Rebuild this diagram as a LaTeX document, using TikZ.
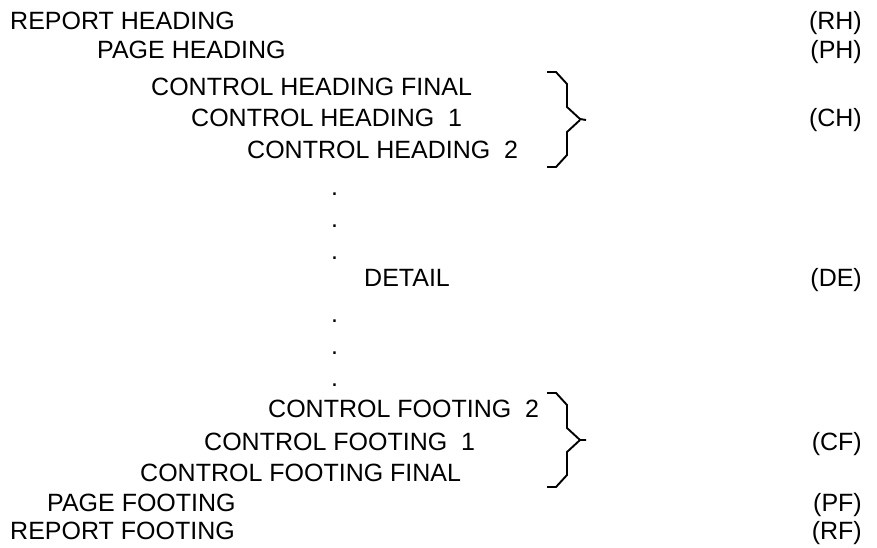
\documentclass[tikz,border=0pt]{standalone}
\usepackage{fontspec}
\setmainfont{Liberation Sans}
\begin{document}
\begin{tikzpicture}[x=1pt,y=-1pt,
  lbl/.style={anchor=base west,inner sep=0pt,font=\fontsize{25}{25}\selectfont},
  tag/.style={anchor=base east,inner sep=0pt,font=\fontsize{25}{25}\selectfont},
  brace/.style={line width=1.9pt,line join=miter}]
\useasboundingbox (0,0) rectangle (877,548);
% left column
\node[lbl] (rh)  at (10,30)  {REPORT HEADING};
\node[lbl] (ph)  at (97,59)  {PAGE HEADING};
\node[lbl] (chf) at (151,96) {CONTROL HEADING FINAL};
\node[lbl] (ch1) at (191,127) {CONTROL HEADING\ \ 1};
\node[lbl] (ch2) at (247,159) {CONTROL HEADING\ \ 2};
\node[lbl] (d1) at (331,195) {.};
\node[lbl] (d2) at (331,227) {.};
\node[lbl] (d3) at (331,259) {.};
\node[lbl] (de) at (364,286) {DETAIL};
\node[lbl] (d4) at (331,322) {.};
\node[lbl] (d5) at (331,354) {.};
\node[lbl] (d6) at (331,386) {.};
\node[lbl] (cf2) at (268,417) {CONTROL FOOTING\ \ 2};
\node[lbl] (cf1) at (204,450) {CONTROL FOOTING\ \ 1};
\node[lbl] (cff) at (140,481) {CONTROL FOOTING FINAL};
\node[lbl] (pf)  at (47,511) {PAGE FOOTING};
\node[lbl] (rf)  at (10,539) {REPORT FOOTING};
% right column
\node[tag] (trh) at (862,30)  {(RH)};
\node[tag] (tph) at (862,59)  {(PH)};
\node[tag] (tch) at (862,127) {(CH)};
\node[tag] (tde) at (862,286) {(DE)};
\node[tag] (tcf) at (862,450) {(CF)};
\node[tag] (tpf) at (862,511) {(PF)};
\node[tag] (trf) at (862,539) {(RF)};
% braces
\coordinate (bht) at (547,72);
\coordinate (bhb) at (547,167);
\coordinate (bhtip) at (586,120);
\coordinate (bft) at (547,393);
\coordinate (bfb) at (547,487);
\coordinate (bftip) at (586,440);
\draw[brace] (bht) -- ++(9,0) -- ++(11,12) -- ++(0,23) -- ++(13,12) -- (bhtip);
\draw[brace] (bhb) -- ++(9,0) -- ++(11,-12) -- ++(0,-23) -- ++(13,-12) -- (bhtip -| 580,0);
\draw[brace] (bft) -- ++(9,0) -- ++(11,12) -- ++(0,23) -- ++(13,12) -- (bftip);
\draw[brace] (bfb) -- ++(9,0) -- ++(11,-12) -- ++(0,-23) -- ++(13,-12) -- (bftip -| 580,0);
\end{tikzpicture}
\end{document}
